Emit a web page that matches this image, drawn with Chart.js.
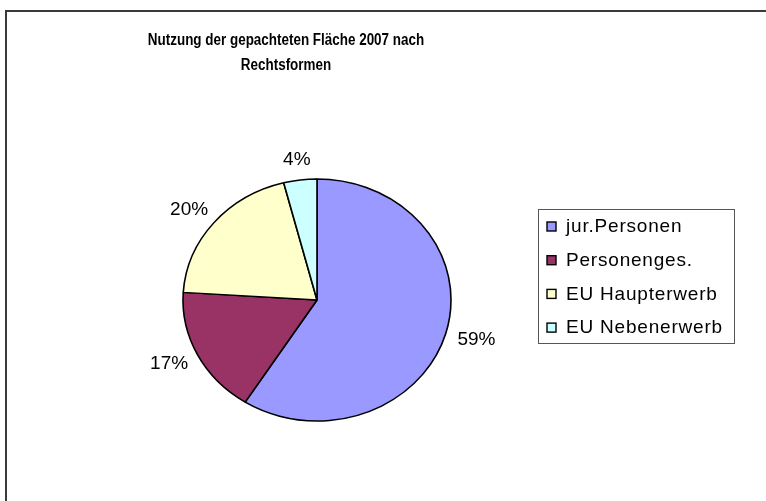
<!DOCTYPE html>
<html>
<head>
<meta charset="utf-8">
<script src="https://cdn.jsdelivr.net/npm/chart.js@4.4.0/dist/chart.umd.min.js"></script>
<style>
  html,body{margin:0;padding:0;background:#fff;}
  #wrap{position:relative;width:766px;height:501px;overflow:hidden;}
  #frame{position:absolute;left:5px;top:10px;width:800px;height:600px;border-left:2px solid #3a3a3a;border-top:2px solid #3a3a3a;box-sizing:border-box;}
  canvas{position:absolute;left:0;top:0;}
</style>
</head>
<body>
<div id="wrap">
  <div id="frame"></div>
  <canvas id="pie" width="766" height="501"></canvas>
</div>
<script>
// --- data ---
const titleLines=['Nutzung der gepachteten Fläche 2007 nach','Rechtsformen'];
const categories=['jur.Personen','Personenges.','EU Haupterwerb','EU Nebenerwerb'];
const shares=[59,17,20,4];
const colors=['#9999FF','#993366','#FFFFCC','#CCFFFF'];

const FONT='"Liberation Sans", Arial, sans-serif';
const SQUASH=121/134; // excel pie is a bit flat

// flatten the pie vertically around its centre
const squashPlugin={
  id:'squash',
  beforeDatasetsDraw(chart){
    const a=chart.getDatasetMeta(0).data[0]; if(!a) return;
    const ctx=chart.ctx;
    ctx.save();
    ctx.translate(a.x,a.y); ctx.scale(1,SQUASH); ctx.translate(-a.x,-a.y);
  },
  afterDatasetsDraw(chart){ chart.ctx.restore(); }
};

// title, % labels, legend box
const decoPlugin={
  id:'deco',
  afterDraw(chart){
    const ctx=chart.ctx;
    ctx.save();
    ctx.fillStyle='#000';
    ctx.textAlign='center'; ctx.textBaseline='middle';
    ctx.font='bold 16px '+FONT;
    titleLines.forEach((t,i)=>{
      ctx.save();
      ctx.translate(286,41+i*25); ctx.scale(0.84,1);
      ctx.fillText(t,0,0);
      ctx.restore();
    });

    // percent labels outside the slices
    ctx.font='19px '+FONT;
    chart.getDatasetMeta(0).data.forEach((arc,i)=>{
      const mid=(arc.startAngle+arc.endAngle)/2;
      const c=Math.cos(mid), s=Math.sin(mid);
      const r=arc.outerRadius;
      const ex=arc.x+c*r, ey=arc.y+s*r*SQUASH;
      const gap=13;
      const txt=shares[i]+'%';
      const w=ctx.measureText(txt).width, h=15;
      ctx.fillText(txt,ex+c*gap+c*w/2,ey+s*gap+s*h/2);
    });

    // legend
    const lx=538, ly=209, lw=196, lh=134;
    ctx.strokeStyle='#555'; ctx.lineWidth=1;
    ctx.strokeRect(lx+0.5,ly+0.5,lw,lh);
    ctx.textAlign='left';
    ctx.font='19px '+FONT;
    ctx.letterSpacing='0.8px';
    categories.forEach((lab,i)=>{
      const y=226+i*33.7;
      ctx.fillStyle=colors[i];
      ctx.fillRect(547,y-4,9,9);
      ctx.strokeStyle='#000'; ctx.lineWidth=1.4;
      ctx.strokeRect(547,y-4,9,9);
      ctx.fillStyle='#000';
      ctx.fillText(lab,566,y+1);
    });
    ctx.restore();
  }
};

new Chart(document.getElementById('pie'),{
  type:'pie',
  data:{labels:categories,datasets:[{data:shares,backgroundColor:colors,borderColor:'#000',borderWidth:1.6}]},
  options:{
    responsive:false,animation:false,
    radius:134,
    layout:{padding:{left:20,right:152,top:110,bottom:11}},
    plugins:{legend:{display:false},title:{display:false},tooltip:{enabled:false}}
  },
  plugins:[squashPlugin,decoPlugin]
});
</script>
</body>
</html>
